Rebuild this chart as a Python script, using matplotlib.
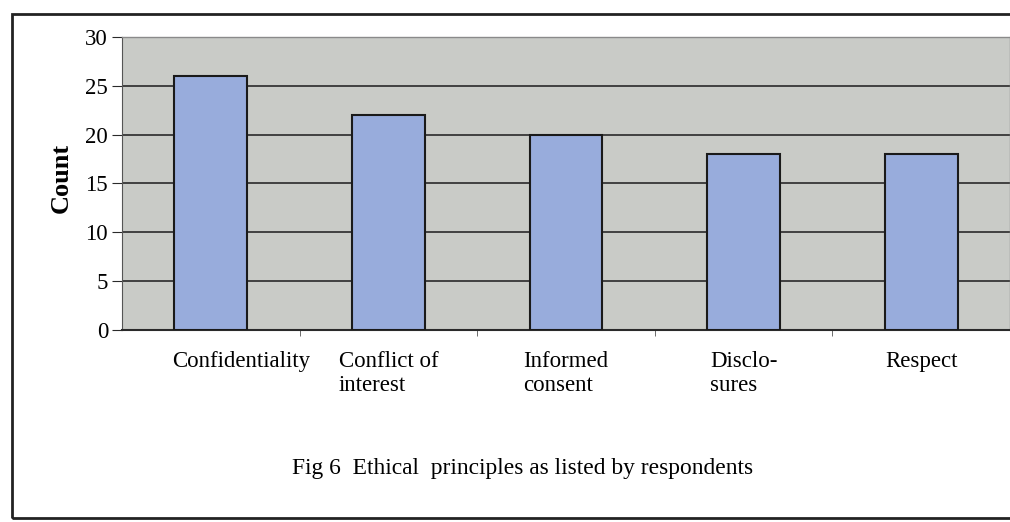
import matplotlib.pyplot as plt
from matplotlib.patches import Rectangle
from matplotlib.ticker import FixedLocator
from matplotlib.transforms import ScaledTranslation

categories = ["Confidentiality", "Conflict of\ninterest", "Informed\nconsent",
              "Disclo-\nsures", "Respect"]
counts = [26, 22, 20, 18, 18]
y_ticks = [0, 5, 10, 15, 20, 25, 30]

plt.rcParams["font.family"] = ["Liberation Serif", "DejaVu Serif"]

fig = plt.figure(figsize=(10.1, 5.22), dpi=100)
ax = fig.add_axes([0.1208, 0.368, 0.8792, 0.561])

x = list(range(len(categories)))
ax.set_facecolor("#c9cbc7")
ax.bar(x, counts, width=0.41, color="#98acdc", edgecolor="#1a1a1a",
       linewidth=1.5, zorder=3)

ax.set_xlim(-0.5, len(categories) - 0.5)
ax.set_ylim(0, 30)
ax.set_yticks(y_ticks)
ax.yaxis.grid(True, color="#2a2a2a", linewidth=1.2, zorder=1)
ax.set_axisbelow(True)

ax.set_xticks(x, categories, ha="center", multialignment="left")
ax.xaxis.set_minor_locator(FixedLocator([i + 0.5 for i in x[:-1]]))
ax.tick_params(axis="x", which="major", length=0, pad=15, labelsize=16.5)
ax.tick_params(axis="x", which="minor", length=4, direction="out", color="#555555")
ax.tick_params(axis="y", length=7, pad=3, labelsize=16.5, color="#2a2a2a")

# the long single-word label sits a bit right of its bar in the original
first = ax.get_xticklabels()[0]
first.set_transform(first.get_transform() + ScaledTranslation(0.3, 0, fig.dpi_scale_trans))

ax.set_ylabel("Count", fontsize=19, fontweight="bold")
ax.yaxis.set_label_coords(-0.055, 0.519)

for side in ["top", "right"]:
    ax.spines[side].set_color("#8a8a8a")
    ax.spines[side].set_linewidth(1)
ax.spines["left"].set_color("#555555")
ax.spines["bottom"].set_color("#2a2a2a")
ax.spines["bottom"].set_linewidth(1.5)

fig.text(0.517, 0.103, "Fig 6  Ethical  principles as listed by respondents",
         ha="center", va="center", fontsize=16.9)

# outer frame round the figure
fig.patches.append(Rectangle((0.012, 0.008), 1.2, 0.965, transform=fig.transFigure,
                             fill=False, edgecolor="#222222", linewidth=2))

fig.savefig("out.png", dpi=100)
plt.close(fig)
